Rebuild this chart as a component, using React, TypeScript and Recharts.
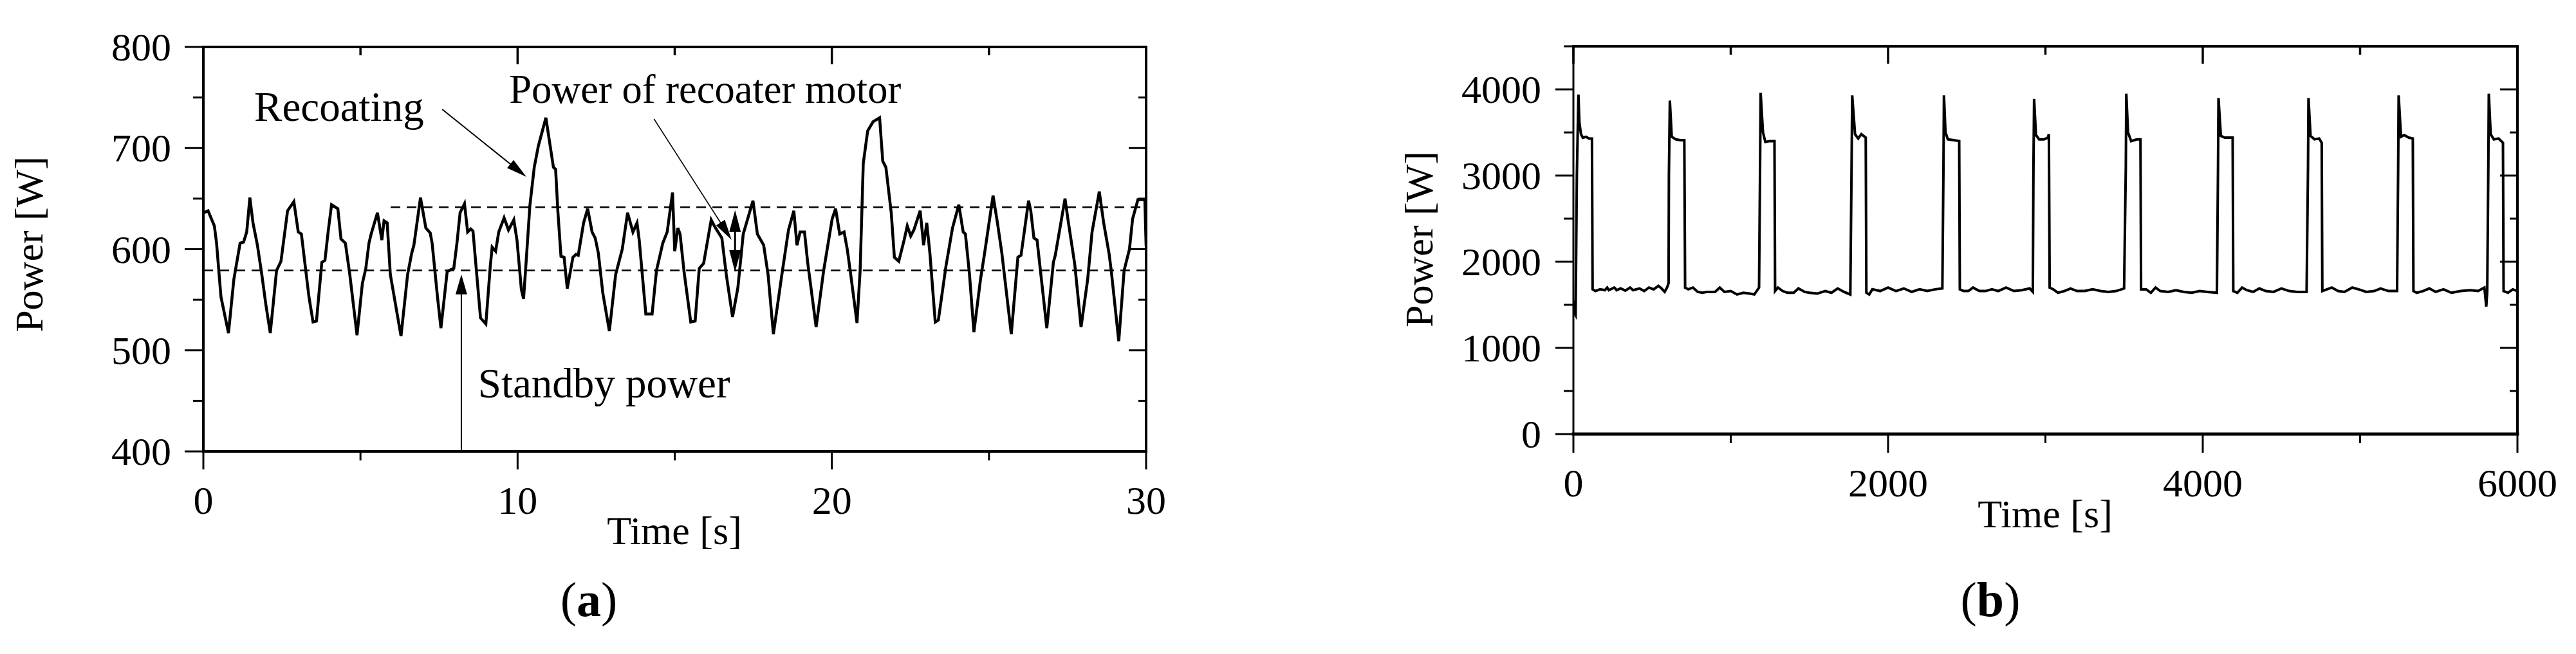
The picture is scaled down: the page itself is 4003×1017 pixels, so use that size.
import React from 'react';
import { LineChart, Line, XAxis, YAxis, ReferenceLine, ReferenceDot } from 'recharts';

const FONT = '"Liberation Serif", "Times New Roman", Times, serif';

// ---------- Panel (a): 30 s power trace ----------
const timeA = [
  0.01, 0.15, 0.35, 0.42, 0.56, 0.80, 0.97, 1.17, 1.28, 1.38,
  1.48, 1.58, 1.72, 1.86, 1.99, 2.13, 2.33, 2.47, 2.68, 2.88,
  3.02, 3.12, 3.22, 3.36, 3.49, 3.60, 3.77, 3.87, 3.97, 4.08,
  4.28, 4.38, 4.52, 4.66, 4.89, 5.06, 5.17, 5.27, 5.34, 5.54,
  5.68, 5.75, 5.85, 5.95, 6.29, 6.50, 6.63, 6.70, 6.91, 7.08,
  7.22, 7.28, 7.45, 7.56, 7.76, 7.97, 8.07, 8.17, 8.31, 8.41,
  8.51, 8.58, 8.75, 8.82, 8.99, 9.13, 9.19, 9.30, 9.40, 9.57,
  9.71, 9.88, 9.98, 10.12,
  10.19, 10.29, 10.39, 10.53, 10.66, 10.90, 11.14, 11.21, 11.28, 11.38,
  11.48, 11.58, 11.76, 11.86, 11.93, 12.10, 12.23, 12.37, 12.47, 12.57,
  12.71, 12.92, 13.12, 13.33, 13.50, 13.67, 13.80, 13.87, 14.08, 14.28,
  14.42, 14.62, 14.76, 14.93, 15.00, 15.10, 15.17, 15.30, 15.51, 15.65,
  15.78, 15.92, 16.16, 16.26, 16.50, 16.64, 16.84, 17.01, 17.18, 17.49,
  17.63, 17.83, 17.97, 18.14, 18.41, 18.62, 18.79, 18.89, 18.99, 19.13,
  19.23, 19.50, 19.74, 20.01,
  20.12, 20.25, 20.39, 20.49, 20.60, 20.80, 20.90, 21.00, 21.14, 21.31,
  21.52, 21.62, 21.72, 21.89, 21.99, 22.13, 22.30, 22.40, 22.51, 22.61,
  22.81, 22.92, 23.02, 23.12, 23.29, 23.39, 23.63, 23.84, 24.04, 24.18,
  24.25, 24.38, 24.52, 24.73, 24.86, 25.13, 25.27, 25.41, 25.71, 25.92,
  26.02, 26.26, 26.33, 26.43, 26.53, 26.84, 27.05, 27.11, 27.42, 27.52,
  27.73, 27.93, 28.14, 28.28, 28.51, 28.65, 28.82, 28.89, 29.13, 29.30,
  29.47, 29.57, 29.74, 29.96, 30.0,
];
const powerA = [
  636, 638, 623, 606, 553, 517, 570, 606, 607, 617,
  651, 626, 604, 575, 545, 517, 579, 588, 638, 647,
  617, 615, 589, 553, 528, 529, 587, 589, 617, 644,
  640, 610, 606, 575, 515, 566, 581, 606, 615, 636,
  609, 628, 626, 575, 514, 575, 596, 604, 651, 621,
  616, 606, 553, 522, 578, 581, 606, 636, 645, 617,
  620, 618, 557, 532, 526, 583, 602, 598, 617, 631,
  619, 629, 609, 560,
  551, 596, 643, 681, 702, 730, 681, 679, 638, 593,
  592, 561, 592, 595, 594, 626, 640, 617, 611, 596,
  557, 519, 575, 600, 636, 617, 626, 609, 536, 536,
  579, 606, 617, 656, 598, 621, 615, 577, 528, 529,
  581, 586, 629, 623, 611, 575, 533, 562, 615, 648,
  615, 604, 575, 516, 575, 619, 638, 604, 617, 617,
  587, 523, 579, 630,
  640, 615, 617, 600, 575, 527, 579, 685, 717, 726,
  730, 687, 681, 636, 592, 588, 609, 623, 613, 619,
  638, 604, 626, 596, 528, 530, 583, 621, 644, 617,
  615, 575, 518, 570, 596, 653, 626, 596, 516, 592,
  594, 648, 638, 611, 609, 522, 587, 594, 650, 628,
  585, 523, 570, 617, 657, 626, 596, 579, 509, 579,
  600, 630, 649, 649, 603,
];
const xTicksA = [0, 5, 10, 15, 20, 25, 30];
const yTicksA = [400, 450, 500, 550, 600, 650, 700, 750, 800];
const standbyLevel = 579;
const motorLevel = 641.5;
const motorLevelFrom = 5.96;

// annotation anchors (data units)
const recoatText = { t: 1.62, p: 726.9 };
const recoatArrow = [{ x: 7.6, y: 738.3 }, { x: 10.28, y: 671.5 }];
const motorText = { t: 9.73, p: 744.7 };
const motorArrow = [{ x: 14.34, y: 728.8 }, { x: 16.81, y: 609.2 }];
const motorSpan = [{ x: 16.92, y: 577.5 }, { x: 16.92, y: 638.7 }];
const standbyText = { t: 8.74, p: 453.4 };
const standbyArrow = [{ x: 8.21, y: 400 }, { x: 8.21, y: 575.1 }];

// ---------- Panel (b): 6000 s power trace ----------
const timeB = [
  0, 8, 14, 22, 32, 38, 48, 60, 80, 100, 118, 122,
  140, 170, 200, 215, 225, 260, 275, 300, 330, 360, 380, 420, 450, 480, 510, 540, 560, 580, 595,
  605, 607, 613, 625, 650, 680, 705, 710,
  730, 760, 790, 820, 850, 900, 930, 960, 1000, 1040, 1080, 1120, 1150, 1180,
  1186, 1190, 1205, 1220, 1250, 1278, 1282,
  1300, 1330, 1360, 1400, 1430, 1470, 1500, 1550, 1600, 1640, 1680, 1720, 1760,
  1768, 1772, 1790, 1810, 1830, 1858, 1862,
  1880, 1900, 1950, 2000, 2050, 2100, 2150, 2200, 2250, 2300, 2345,
  2352, 2355, 2365, 2380, 2420, 2452, 2456,
  2480, 2510, 2540, 2580, 2620, 2660, 2700, 2750, 2800, 2850, 2900, 2920,
  2924, 2928, 2940, 2960, 2990, 3015, 3022, 3027,
  3050, 3080, 3120, 3160, 3200, 3250, 3300, 3350, 3400, 3450, 3500,
  3511, 3514, 3525, 3545, 3580, 3604, 3608,
  3640, 3670, 3700, 3730, 3780, 3830, 3880, 3930, 3980, 4030, 4090,
  4097, 4100, 4115, 4140, 4170, 4190, 4194,
  4220, 4250, 4280, 4320, 4360, 4400, 4450, 4500, 4550, 4600, 4660,
  4669, 4672, 4685, 4710, 4740, 4756, 4760,
  4790, 4820, 4860, 4900, 4950, 4990, 5040, 5090, 5130, 5180, 5235,
  5242, 5245, 5260, 5280, 5310, 5335, 5339,
  5360, 5400, 5440, 5480, 5530, 5580, 5640, 5700, 5750, 5790, 5802, 5808,
  5815, 5818, 5830, 5850, 5880, 5908, 5912,
  5940, 5970, 6000,
];
const powerB = [
  1550, 1400, 1380, 3000, 3940, 3620, 3480, 3440, 3450, 3430, 3430, 1680,
  1660, 1680, 1670, 1700, 1670, 1700, 1670, 1690, 1665, 1700, 1670, 1690, 1660, 1700, 1680, 1720, 1690, 1650, 1700,
  1750, 3000, 3870, 3450, 3420, 3410, 3410, 1700,
  1680, 1700, 1650, 1640, 1650, 1650, 1700, 1650, 1660, 1620, 1640, 1630, 1620, 1700,
  3000, 3960, 3500, 3390, 3400, 3400, 1660,
  1700, 1660, 1640, 1640, 1690, 1650, 1640, 1630, 1660, 1640, 1690, 1650, 1620,
  3100, 3930, 3480, 3430, 3480, 3440, 1640,
  1620, 1680, 1660, 1700, 1660, 1690, 1650, 1680, 1660, 1680, 1690,
  3100, 3930, 3500, 3420, 3410, 3400, 1680,
  1660, 1660, 1700, 1660, 1660, 1680, 1660, 1700, 1660, 1670, 1690, 1650,
  3100, 3890, 3470, 3420, 3420, 3440, 3480, 1700,
  1680, 1640, 1660, 1690, 1660, 1660, 1680, 1660, 1650, 1660, 1690,
  3100, 3950, 3500, 3400, 3420, 3420, 1680,
  1680, 1640, 1700, 1660, 1650, 1670, 1650, 1640, 1660, 1650, 1640,
  3100, 3900, 3460, 3440, 3440, 3440, 1660,
  1640, 1700, 1670, 1650, 1690, 1660, 1650, 1690, 1660, 1650, 1650,
  3100, 3900, 3460, 3420, 3430, 3380, 1660,
  1680, 1700, 1660, 1650, 1700, 1680, 1650, 1660, 1690, 1660, 1660,
  3100, 3930, 3450, 3470, 3440, 3430, 1660,
  1640, 1660, 1690, 1650, 1680, 1640, 1660, 1670, 1660, 1700, 1480, 1660,
  3100, 3950, 3480, 3420, 3430, 3380, 1660,
  1640, 1680, 1660,
];
const xTicksB = [0, 1000, 2000, 3000, 4000, 5000, 6000];
const yTicksB = [0, 500, 1000, 1500, 2000, 2500, 3000, 3500, 4000, 4500];

const dataA = timeA.map((t, i) => ({ t, p: powerA[i] }));
const dataB = timeB.map((t, i) => ({ t, p: powerB[i] }));

// ---------- layout ----------
const CHART_H = 1017;
const chartA = { left: 0, width: 1900, margin: { top: 72, right: 118, bottom: 314, left: 315 }, domain: [0, 30] };
const chartB = { left: 2100, width: 1903, margin: { top: 71, right: 90, bottom: 341, left: 344 }, domain: [0, 6000] };
// plot frame of a chart (axes have 1px boxes)
const frameOf = (c: typeof chartA) => ({
  x0: c.left + c.margin.left + 1,
  x1: c.left + c.width - c.margin.right - 1,
  top: c.margin.top + 1,
});

// ---------- helpers ----------
type Side = 'left' | 'right' | 'bottom';
const TICK_FONT = 62;

const makeTick =
  (side: Side, isMajor: (v: number) => boolean, withLabel: boolean, majorLen = 28, minorLen = 14) =>
  (props: any) => {
    const { x, y, payload } = props;
    const v = payload.value;
    const major = isMajor(v);
    const len = major ? majorLen : minorLen;
    let line = null;
    let label = null;
    if (side === 'left') {
      line = <line x1={x} y1={y} x2={x - len} y2={y} stroke="#000" strokeWidth={3} />;
      if (withLabel && major)
        label = (
          <text x={x - 50} y={y + 21} textAnchor="end" fontFamily={FONT} fontSize={TICK_FONT} fill="#000">
            {v}
          </text>
        );
    } else if (side === 'bottom') {
      line = <line x1={x} y1={y} x2={x} y2={y + len} stroke="#000" strokeWidth={3} />;
      if (withLabel && major)
        label = (
          <text x={x} y={y + 97} textAnchor="middle" fontFamily={FONT} fontSize={TICK_FONT} fill="#000">
            {v}
          </text>
        );
    } else {
      line = <line x1={x} y1={y} x2={x - len} y2={y} stroke="#000" strokeWidth={3} />;
    }
    return (
      <g>
        {line}
        {label}
      </g>
    );
  };

const makeArrow = (head: number, half: number, sw: number, both = false) => (props: any) => {
  const { x1, y1, x2, y2 } = props;
  const dx = x2 - x1;
  const dy = y2 - y1;
  const len = Math.hypot(dx, dy) || 1;
  const ux = dx / len;
  const uy = dy / len;
  const nx = -uy;
  const ny = ux;
  const headPts = (tx: number, ty: number, sx: number, sy: number) => {
    const bx = tx - sx * head;
    const by = ty - sy * head;
    return `${tx},${ty} ${bx + nx * half},${by + ny * half} ${bx - nx * half},${by - ny * half}`;
  };
  const sx = both ? x1 + ux * head * 0.8 : x1;
  const sy = both ? y1 + uy * head * 0.8 : y1;
  return (
    <g>
      <line x1={sx} y1={sy} x2={x2 - ux * head * 0.8} y2={y2 - uy * head * 0.8} stroke="#000" strokeWidth={sw} />
      <polygon points={headPts(x2, y2, ux, uy)} fill="#000" />
      {both && <polygon points={headPts(x1, y1, -ux, -uy)} fill="#000" />}
    </g>
  );
};

const textShape = (label: string, size = 64) => (props: any) => (
  <text x={props.cx} y={props.cy} textAnchor="start" fontFamily={FONT} fontSize={size} fill="#000">
    {label}
  </text>
);

const axisLine = (w: number) => ({ stroke: '#000', strokeWidth: w, strokeLinecap: 'square' as const });

// inward ticks on the top frame line
const TopTicks = ({ c, ticks, isMajor }: { c: typeof chartA; ticks: number[]; isMajor: (v: number) => boolean }) => {
  const f = frameOf(c);
  const [d0, d1] = c.domain;
  return (
    <g>
      {ticks.map((v) => {
        const x = f.x0 + ((v - d0) / (d1 - d0)) * (f.x1 - f.x0);
        const len = isMajor(v) ? 27 : 13;
        return <line key={v} x1={x} y1={f.top} x2={x} y2={f.top + len} stroke="#000" strokeWidth={3.5} />;
      })}
    </g>
  );
};

export default function App() {
  const isMajA_x = (v: number) => v % 10 === 0;
  const isMajA_y = (v: number) => v % 100 === 0;
  const isMajB_x = (v: number) => v % 2000 === 0;
  const isMajB_y = (v: number) => v % 1000 === 0;

  const common = {
    type: 'number' as const,
    interval: 0 as const,
    tickSize: 0,
    tickMargin: 0,
    tickLine: false,
    allowDataOverflow: true,
  };

  return (
    <div style={{ position: 'absolute', left: 0, top: 0, width: 4003, height: 1017, background: '#fff', fontFamily: FONT }}>
      {/* Panel (a) */}
      <div style={{ position: 'absolute', left: chartA.left, top: 0 }}>
        <LineChart width={chartA.width} height={CHART_H} data={dataA} margin={chartA.margin}>
          <XAxis
            {...common}
            dataKey="t"
            domain={chartA.domain}
            ticks={xTicksA}
            height={1}
            axisLine={axisLine(4)}
            tick={makeTick('bottom', isMajA_x, true, 28, 14)}
          />
          <XAxis
            {...common}
            xAxisId="top"
            dataKey="t"
            orientation="top"
            domain={chartA.domain}
            ticks={xTicksA}
            height={1}
            axisLine={axisLine(4)}
            tick={false}
          />
          <YAxis
            {...common}
            domain={[400, 800]}
            ticks={yTicksA}
            width={1}
            axisLine={axisLine(4)}
            tick={makeTick('left', isMajA_y, true, 29, 16)}
          />
          <YAxis
            {...common}
            yAxisId="right"
            orientation="right"
            domain={[400, 800]}
            ticks={yTicksA}
            width={1}
            axisLine={axisLine(4)}
            tick={makeTick('right', isMajA_y, false, 27, 12)}
          />
          <Line
            xAxisId="top"
            yAxisId="right"
            type="linear"
            dataKey="p"
            stroke="transparent"
            strokeWidth={0}
            dot={false}
            activeDot={false}
            isAnimationActive={false}
          />
          <ReferenceLine y={standbyLevel} stroke="#000" strokeWidth={2.5} strokeDasharray="15 10" />
          <ReferenceLine
            segment={[{ x: motorLevelFrom, y: motorLevel }, { x: 30, y: motorLevel }]}
            stroke="#000"
            strokeWidth={2.5}
            strokeDasharray="15 10"
          />
          <Line type="linear" dataKey="p" stroke="#000" strokeWidth={4.5} dot={false} isAnimationActive={false} />
          <ReferenceLine segment={recoatArrow} shape={makeArrow(32, 8, 2)} ifOverflow="visible" />
          <ReferenceLine segment={motorArrow} shape={makeArrow(32, 8, 1.6)} ifOverflow="visible" />
          <ReferenceLine segment={motorSpan} shape={makeArrow(34, 9, 3, true)} ifOverflow="visible" />
          <ReferenceLine segment={standbyArrow} shape={makeArrow(31, 9, 2)} ifOverflow="visible" />
          <ReferenceDot x={recoatText.t} y={recoatText.p} r={0} ifOverflow="visible" shape={textShape('Recoating', 65)} />
          <ReferenceDot x={motorText.t} y={motorText.p} r={0} ifOverflow="visible" shape={textShape('Power of recoater motor', 62.5)} />
          <ReferenceDot x={standbyText.t} y={standbyText.p} r={0} ifOverflow="visible" shape={textShape('Standby power', 65)} />
        </LineChart>
      </div>

      {/* Panel (b) */}
      <div style={{ position: 'absolute', left: chartB.left, top: 0 }}>
        <LineChart width={chartB.width} height={CHART_H} data={dataB} margin={chartB.margin}>
          <XAxis
            {...common}
            dataKey="t"
            domain={chartB.domain}
            ticks={xTicksB}
            height={1}
            axisLine={axisLine(5)}
            tick={makeTick('bottom', isMajB_x, true, 29, 14)}
          />
          <XAxis
            {...common}
            xAxisId="top"
            dataKey="t"
            orientation="top"
            domain={chartB.domain}
            ticks={xTicksB}
            height={1}
            axisLine={axisLine(4)}
            tick={false}
          />
          <YAxis
            {...common}
            domain={[0, 4500]}
            ticks={yTicksB}
            width={1}
            axisLine={axisLine(3)}
            tick={makeTick('left', isMajB_y, true, 28, 15)}
          />
          <YAxis
            {...common}
            yAxisId="right"
            orientation="right"
            domain={[0, 4500]}
            ticks={yTicksB}
            width={1}
            axisLine={axisLine(4)}
            tick={makeTick('right', isMajB_y, false, 27, 12)}
          />
          <Line
            xAxisId="top"
            yAxisId="right"
            type="linear"
            dataKey="p"
            stroke="transparent"
            strokeWidth={0}
            dot={false}
            activeDot={false}
            isAnimationActive={false}
          />
          <Line type="linear" dataKey="p" stroke="#000" strokeWidth={4} dot={false} isAnimationActive={false} />
        </LineChart>
      </div>

      {/* Titles, panel labels and the inward ticks of the top frame */}
      <svg
        width={4003}
        height={1017}
        style={{ position: 'absolute', left: 0, top: 0, pointerEvents: 'none' }}
      >
        <TopTicks c={chartA} ticks={xTicksA} isMajor={isMajA_x} />
        <TopTicks c={chartB} ticks={xTicksB} isMajor={isMajB_x} />
        <text x={66} y={380} transform="rotate(-90 66 380)" textAnchor="middle" fontFamily={FONT} fontSize={62} fill="#000">
          Power [W]
        </text>
        <text x={1048} y={846} textAnchor="middle" fontFamily={FONT} fontSize={62} fill="#000">
          Time [s]
        </text>
        <text x={915} y={958} textAnchor="middle" fontFamily={FONT} fontSize={76} fill="#000">
          (<tspan fontWeight="bold">a</tspan>)
        </text>
        <text x={2226} y={372} transform="rotate(-90 2226 372)" textAnchor="middle" fontFamily={FONT} fontSize={62} fill="#000">
          Power [W]
        </text>
        <text x={3178} y={820} textAnchor="middle" fontFamily={FONT} fontSize={62} fill="#000">
          Time [s]
        </text>
        <text x={3093} y={958} textAnchor="middle" fontFamily={FONT} fontSize={76} fill="#000">
          (<tspan fontWeight="bold">b</tspan>)
        </text>
      </svg>
    </div>
  );
}
